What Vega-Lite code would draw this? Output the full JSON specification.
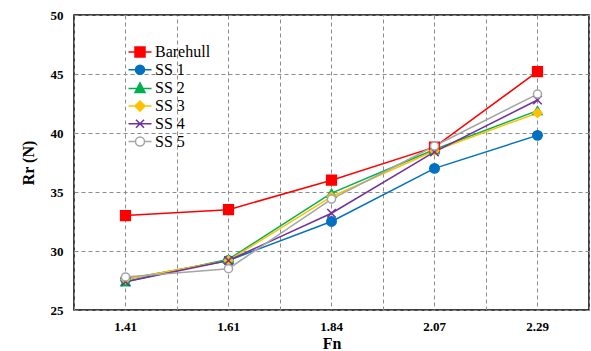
{
  "$schema": "https://vega.github.io/schema/vega-lite/v6.json",
  "width": 515,
  "height": 295,
  "autosize": {"type": "none"},
  "padding": {"left": 74, "top": 15, "right": 2, "bottom": 41},
  "background": "white",
  "config": {
    "view": {"stroke": "black", "strokeWidth": 1.5},
    "font": "Liberation Serif",
    "legend": {"labelFont": "Liberation Serif", "labelFontSize": 16, "labelColor": "black"},
    "axis": {
      "labelFont": "Liberation Serif", "labelFontWeight": "bold", "labelFontSize": 13, "labelColor": "black",
      "titleFont": "Liberation Serif", "titleFontWeight": "bold", "titleFontSize": 16, "titleColor": "black",
      "gridColor": "#8c8c8c", "gridDash": [4, 3], "gridWidth": 1, "gridOpacity": 1
    }
  },
  "data": {
    "values": [
      {"Fn": "1.41", "Series": "Barehull", "Rr": 33.0},
      {"Fn": "1.61", "Series": "Barehull", "Rr": 33.5},
      {"Fn": "1.84", "Series": "Barehull", "Rr": 36.0},
      {"Fn": "2.07", "Series": "Barehull", "Rr": 38.8},
      {"Fn": "2.29", "Series": "Barehull", "Rr": 45.2},
      {"Fn": "1.41", "Series": "SS 1", "Rr": 27.6},
      {"Fn": "1.61", "Series": "SS 1", "Rr": 29.2},
      {"Fn": "1.84", "Series": "SS 1", "Rr": 32.5},
      {"Fn": "2.07", "Series": "SS 1", "Rr": 37.0},
      {"Fn": "2.29", "Series": "SS 1", "Rr": 39.8},
      {"Fn": "1.41", "Series": "SS 2", "Rr": 27.4},
      {"Fn": "1.61", "Series": "SS 2", "Rr": 29.3},
      {"Fn": "1.84", "Series": "SS 2", "Rr": 34.9},
      {"Fn": "2.07", "Series": "SS 2", "Rr": 38.6},
      {"Fn": "2.29", "Series": "SS 2", "Rr": 41.9},
      {"Fn": "1.41", "Series": "SS 3", "Rr": 27.6},
      {"Fn": "1.61", "Series": "SS 3", "Rr": 29.2},
      {"Fn": "1.84", "Series": "SS 3", "Rr": 34.6},
      {"Fn": "2.07", "Series": "SS 3", "Rr": 38.5},
      {"Fn": "2.29", "Series": "SS 3", "Rr": 41.7},
      {"Fn": "1.41", "Series": "SS 4", "Rr": 27.4},
      {"Fn": "1.61", "Series": "SS 4", "Rr": 29.2},
      {"Fn": "1.84", "Series": "SS 4", "Rr": 33.2},
      {"Fn": "2.07", "Series": "SS 4", "Rr": 38.4},
      {"Fn": "2.29", "Series": "SS 4", "Rr": 42.8},
      {"Fn": "1.41", "Series": "SS 5", "Rr": 27.8},
      {"Fn": "1.61", "Series": "SS 5", "Rr": 28.5},
      {"Fn": "1.84", "Series": "SS 5", "Rr": 34.4},
      {"Fn": "2.07", "Series": "SS 5", "Rr": 38.9},
      {"Fn": "2.29", "Series": "SS 5", "Rr": 43.3}
    ]
  },
  "resolve": {"axis": {"x": "independent"}, "scale": {"stroke": "independent", "fill": "independent", "shape": "independent"}},
  "layer": [
    {
      "mark": {"type": "line", "strokeWidth": 1.5},
      "encoding": {
        "x": {
          "field": "Fn", "type": "ordinal",
          "scale": {"type": "band", "paddingInner": 0, "paddingOuter": 0},
          "axis": {"orient": "bottom", "title": "Fn", "labelAngle": 0, "grid": true, "ticks": false, "domain": false, "labelPadding": 10, "titlePadding": 2}
        },
        "y": {
          "field": "Rr", "type": "quantitative",
          "scale": {"domain": [25, 50], "nice": false, "zero": false},
          "axis": {
            "title": "Rr (N)", "values": [25, 27.5, 30, 32.5, 35, 37.5, 40, 42.5, 45, 47.5, 50],
            "labelExpr": "datum.value % 5 === 0 ? format(datum.value, 'd') : ''",
            "ticks": false, "domain": false, "labelPadding": 11, "titlePadding": 14, "grid": true
          }
        },
        "stroke": {
          "field": "Series", "type": "nominal",
          "scale": {"domain": ["Barehull", "SS 1", "SS 2", "SS 3", "SS 4", "SS 5"],
                    "range": ["#ff0000", "#0070c0", "#00b050", "#ffc000", "#7030a0", "#a5a5a5"]},
          "legend": null
        },
        "detail": {"field": "Series"}
      }
    },
    {
      "mark": {"type": "point", "filled": true, "strokeWidth": 1.5, "opacity": 1},
      "encoding": {
        "x": {
          "field": "Fn", "type": "ordinal",
          "axis": {"orient": "top", "title": null, "labels": false, "ticks": false, "domain": false, "grid": true, "tickBand": "extent"}
        },
        "y": {"field": "Rr", "type": "quantitative"},
        "stroke": {
          "field": "Series", "type": "nominal",
          "scale": {"domain": ["Barehull", "SS 1", "SS 2", "SS 3", "SS 4", "SS 5"],
                    "range": ["#ff0000", "#0070c0", "#00b050", "#ffc000", "#7030a0", "#a5a5a5"]},
          "legend": null
        },
        "fill": {
          "field": "Series", "type": "nominal",
          "scale": {"domain": ["Barehull", "SS 1", "SS 2", "SS 3", "SS 4", "SS 5"],
                    "range": ["#ff0000", "#0070c0", "#00b050", "#ffc000", "transparent", "white"]},
          "legend": null
        },
        "shape": {
          "field": "Series", "type": "nominal",
          "scale": {"domain": ["Barehull", "SS 1", "SS 2", "SS 3", "SS 4", "SS 5"],
                    "range": ["square", "circle", "triangle-up", "diamond", "M-1,-1L1,1M-1,1L1,-1", "circle"]},
          "legend": null
        },
        "size": {
          "field": "Series", "type": "nominal",
          "scale": {"domain": ["Barehull", "SS 1", "SS 2", "SS 3", "SS 4", "SS 5"],
                    "range": [95, 66, 60, 70, 70, 60]},
          "legend": null
        }
      }
    },
    {
      "mark": {"type": "point", "filled": true, "strokeWidth": 1.5},
      "encoding": {
        "x": {"field": "Fn", "type": "ordinal", "axis": null},
        "y": {"field": "Rr", "type": "quantitative"},
        "opacity": {"condition": {"test": "false", "value": 1}, "value": 0},
        "stroke": {
          "field": "Series", "type": "nominal",
          "scale": {"domain": ["Barehull", "SS 1", "SS 2", "SS 3", "SS 4", "SS 5"],
                    "range": ["#ff0000", "#0070c0", "#00b050", "#ffc000", "#7030a0", "#a5a5a5"]},
          "legend": {
            "orient": "none", "legendX": 58, "legendY": 29, "title": null, "padding": 0,
            "symbolSize": 100, "symbolStrokeWidth": 1.5, "labelOffset": 7, "symbolOpacity": 1,
            "labelFont": "Liberation Serif", "labelFontSize": 16, "labelColor": "black", "rowPadding": 1.7
          }
        },
        "fill": {
          "field": "Series", "type": "nominal",
          "scale": {"domain": ["Barehull", "SS 1", "SS 2", "SS 3", "SS 4", "SS 5"],
                    "range": ["#ff0000", "#0070c0", "#00b050", "#ffc000", "transparent", "white"]},
          "legend": {
            "orient": "none", "legendX": 58, "legendY": 29, "title": null, "padding": 0,
            "symbolSize": 100, "symbolStrokeWidth": 1.5, "labelOffset": 7, "symbolOpacity": 1,
            "labelFont": "Liberation Serif", "labelFontSize": 16, "labelColor": "black", "rowPadding": 1.7
          }
        },
        "shape": {
          "field": "Series", "type": "nominal",
          "scale": {"domain": ["Barehull", "SS 1", "SS 2", "SS 3", "SS 4", "SS 5"],
                    "range": [
                      "M-2.3,0H2.3M-1,-1H1V1H-1Z",
                      "M-2.3,0H2.3M-0.9,0A0.9,0.9 0 1,0 0.9,0A0.9,0.9 0 1,0 -0.9,0Z",
                      "M-2.3,0H2.3M0,-1.1L1,0.8H-1Z",
                      "M-2.3,0H2.3M0,-1L1,0L0,1L-1,0Z",
                      "M-2.3,0H2.3M-0.8,-0.8L0.8,0.8M-0.8,0.8L0.8,-0.8",
                      "M-2.3,0H-0.9M0.9,0H2.3M-0.9,0A0.9,0.9 0 1,0 0.9,0A0.9,0.9 0 1,0 -0.9,0Z"
                    ]},
          "legend": {
            "orient": "none", "legendX": 58, "legendY": 29, "title": null, "padding": 0,
            "symbolSize": 100, "symbolStrokeWidth": 1.5, "labelOffset": 7, "symbolOpacity": 1,
            "labelFont": "Liberation Serif", "labelFontSize": 16, "labelColor": "black", "rowPadding": 1.7
          }
        }
      }
    }
  ]
}
